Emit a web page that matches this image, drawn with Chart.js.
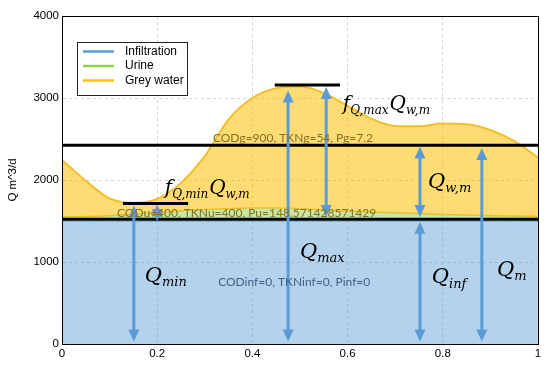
<!DOCTYPE html>
<html><head><meta charset="utf-8">
<script src="https://cdn.jsdelivr.net/npm/chart.js@4.4.0/dist/chart.umd.min.js"></script>
<style>html,body{margin:0;padding:0;background:#fff}#wrap{width:550px;height:366px}</style>
</head><body><div id="wrap"><canvas id="c" width="550" height="366"></canvas></div>
<script>
// ---- data ----
const xValues      = [0,0.05,0.1,0.15,0.2,0.25,0.3,0.35,0.4,0.45,0.5,0.55,0.6,0.65,0.7,0.75,0.8,0.85,0.9,0.95,1];
const infiltration = [1500,1500,1500,1500,1500,1500,1500,1500,1500,1500,1500,1500,1500,1500,1500,1500,1500,1500,1500,1500,1500];
const urine        = [50,55,65,85,105,125,140,150,160,160,150,135,120,110,100,90,80,72,65,60,58];
const greyWater    = [695,435,210,137,165,340,650,1090,1340,1460,1490,1425,1285,1135,1060,1065,1108,1109,1045,915,718];
const seriesNames  = ['Infiltration','Urine','Grey water'];
const xTicks = [0,0.2,0.4,0.6,0.8,1];
const yTicks = [0,1000,2000,3000,4000];
// reference levels (black lines)
const levelMean = 2425, levelBase = 1520, levelMax = 3160, levelMin = 1712;
const maxSpan = [0.447,0.584], minSpan = [0.128,0.265];
// arrows: [x, from, to]
const arrows = [[0.151,30,1690],[0.2,1500,1700],[0.475,30,3090],[0.555,1550,3135],[0.752,1550,2410],[0.752,30,1490],[0.882,30,2390]];
const compText = ['CODg=900, TKNg=54, Pg=7.2','CODu=400, TKNu=400, Pu=148.571428571429','CODinf=0, TKNinf=0, Pinf=0'];

const pts = arr => xValues.map((x,i)=>({x, y: arr[i]}));
const urineTop = infiltration.map((v,i)=>v+urine[i]);
const total = urineTop.map((v,i)=>v+greyWater[i]);
const seg = (a,b,y)=>[{x:a,y},{x:b,y}];

const blackLine = (data)=>({type:'line', data, borderColor:'#000', borderWidth:3, pointRadius:0, fill:false, order:1});

const annot = {
  id:'annot',
  afterDatasetsDraw(chart){
    const {ctx, chartArea:a, scales:{x, y}} = chart;
    ctx.save();
    // arrows
    ctx.strokeStyle = '#5B9BD5'; ctx.fillStyle = '#5B9BD5'; ctx.lineWidth = 3;
    const hl = 12, hw = 5.5;
    arrows.forEach(([xv, y0, y1])=>{
      const px = x.getPixelForValue(xv), pb = y.getPixelForValue(y0), pt = y.getPixelForValue(y1);
      ctx.beginPath(); ctx.moveTo(px, pb - hl + 1); ctx.lineTo(px, pt + hl - 1); ctx.stroke();
      ctx.beginPath(); ctx.moveTo(px, pt); ctx.lineTo(px-hw, pt+hl); ctx.lineTo(px+hw, pt+hl); ctx.closePath(); ctx.fill();
      ctx.beginPath(); ctx.moveTo(px, pb); ctx.lineTo(px-hw, pb-hl); ctx.lineTo(px+hw, pb-hl); ctx.closePath(); ctx.fill();
    });
    // component texts
    ctx.textBaseline = 'alphabetic'; ctx.textAlign = 'left';
    ctx.font = '12px Lato';
    ctx.fillStyle = '#84701F';
    ctx.fillText(compText[0], x.getPixelForValue(0.317), y.getPixelForValue(2460));
    ctx.fillText(compText[1], x.getPixelForValue(0.1155), y.getPixelForValue(1550));
    ctx.fillStyle = '#41618A';
    ctx.fillText(compText[2], x.getPixelForValue(0.328), y.getPixelForValue(705));
    // math labels
    const math = (xv, yv, parts, size)=>{
      let cx = x.getPixelForValue(xv); const cy = y.getPixelForValue(yv);
      ctx.fillStyle = '#000';
      parts.forEach(([b, s])=>{
        ctx.font = `italic ${size}px "DejaVu Serif"`;
        ctx.fillText(b, cx, cy); cx += ctx.measureText(b).width;
        if (s){ ctx.font = `italic ${Math.round(size*0.62)}px "DejaVu Serif"`; ctx.fillText(s, cx, cy + size*0.2); cx += ctx.measureText(s).width + 1; }
      });
    };
    math(0.59, 2850, [['f','Q,max'],['Q','w,m']], 20);
    math(0.216, 1835, [['f','Q,min'],['Q','w,m']], 20);
    math(0.5, 1050, [['Q','max']], 21);
    math(0.174, 755, [['Q','min']], 21);
    math(0.769, 1905, [['Q','w,m']], 21);
    math(0.777, 740, [['Q','inf']], 21);
    math(0.914, 830, [['Q','m']], 21);
    // frame
    ctx.strokeStyle = '#000'; ctx.lineWidth = 1;
    ctx.strokeRect(Math.round(a.left)+0.5, Math.round(a.top)+0.5, Math.round(a.right-a.left), Math.round(a.bottom-a.top));
    // legend
    const lx = a.left + 15, ly = a.top + 26, lw = 110, lh = 53;
    ctx.fillStyle = '#fff'; ctx.fillRect(lx, ly, lw, lh);
    ctx.strokeStyle = '#222'; ctx.strokeRect(lx+0.5, ly+0.5, lw, lh);
    const cols = ['#5B9BD5','#92D050','#FFC000'];
    ctx.font = '12px "Liberation Sans"'; ctx.textBaseline = 'middle';
    seriesNames.forEach((n,i)=>{
      const yy = ly + 9.5 + i*14.5;
      ctx.strokeStyle = cols[i]; ctx.lineWidth = 2.5;
      ctx.beginPath(); ctx.moveTo(lx+6, yy); ctx.lineTo(lx+37, yy); ctx.stroke();
      ctx.fillStyle = '#000'; ctx.fillText(n, lx+48, yy);
    });
    ctx.restore();
  }
};

new Chart(document.getElementById('c'), {
  type:'line',
  data:{ datasets:[
    {label:seriesNames[0], data:pts(infiltration), borderColor:'#5B9BD5', borderWidth:1, backgroundColor:'rgba(91,155,213,0.45)', fill:'origin', pointRadius:0, order:5},
    {label:seriesNames[1], data:pts(urineTop), borderColor:'#E0C232', borderWidth:1.5, backgroundColor:'rgba(146,208,80,0.5)', fill:0, pointRadius:0, cubicInterpolationMode:'monotone', order:4},
    {label:seriesNames[2], data:pts(total), borderColor:'#F2BF2B', borderWidth:2, backgroundColor:'rgba(255,192,0,0.55)', fill:1, pointRadius:0, cubicInterpolationMode:'monotone', order:3},
    blackLine(seg(0,1,levelMean)),
    blackLine(seg(0,1,levelBase)),
    blackLine(seg(maxSpan[0],maxSpan[1],levelMax)),
    blackLine(seg(minSpan[0],minSpan[1],levelMin))
  ]},
  options:{
    responsive:false, animation:false, devicePixelRatio:1,
    layout:{padding:{left:0,right:12,top:16,bottom:0}},
    plugins:{legend:{display:false}, tooltip:{enabled:false}},
    scales:{
      x:{type:'linear', min:0, max:1,
        afterBuildTicks:s=>{s.ticks = xTicks.map(v=>({value:v}));},
        ticks:{callback:v=>String(+v.toFixed(1)), color:'#000', font:{family:'Liberation Sans', size:11.5}, padding:3, maxRotation:0},
        grid:{color:'#d4d4d4', drawTicks:false}, border:{display:true, color:'rgba(0,0,0,0)', dash:[3,3]},
        afterFit:s=>{s.height = 22;}
      },
      y:{min:0, max:4000,
        afterBuildTicks:s=>{s.ticks = yTicks.map(v=>({value:v}));},
        ticks:{callback:v=>String(v), color:'#000', font:{family:'Liberation Sans', size:11.5}, padding:3},
        grid:{color:'#d4d4d4', drawTicks:false}, border:{display:true, color:'rgba(0,0,0,0)', dash:[3,3]},
        title:{display:true, text:'Q m^3/d', color:'#000', font:{family:'Liberation Sans', size:11.5}, padding:{top:6,bottom:0}},
        afterFit:s=>{s.width = 62;}
      }
    }
  },
  plugins:[annot]
});
</script>
</body></html>
